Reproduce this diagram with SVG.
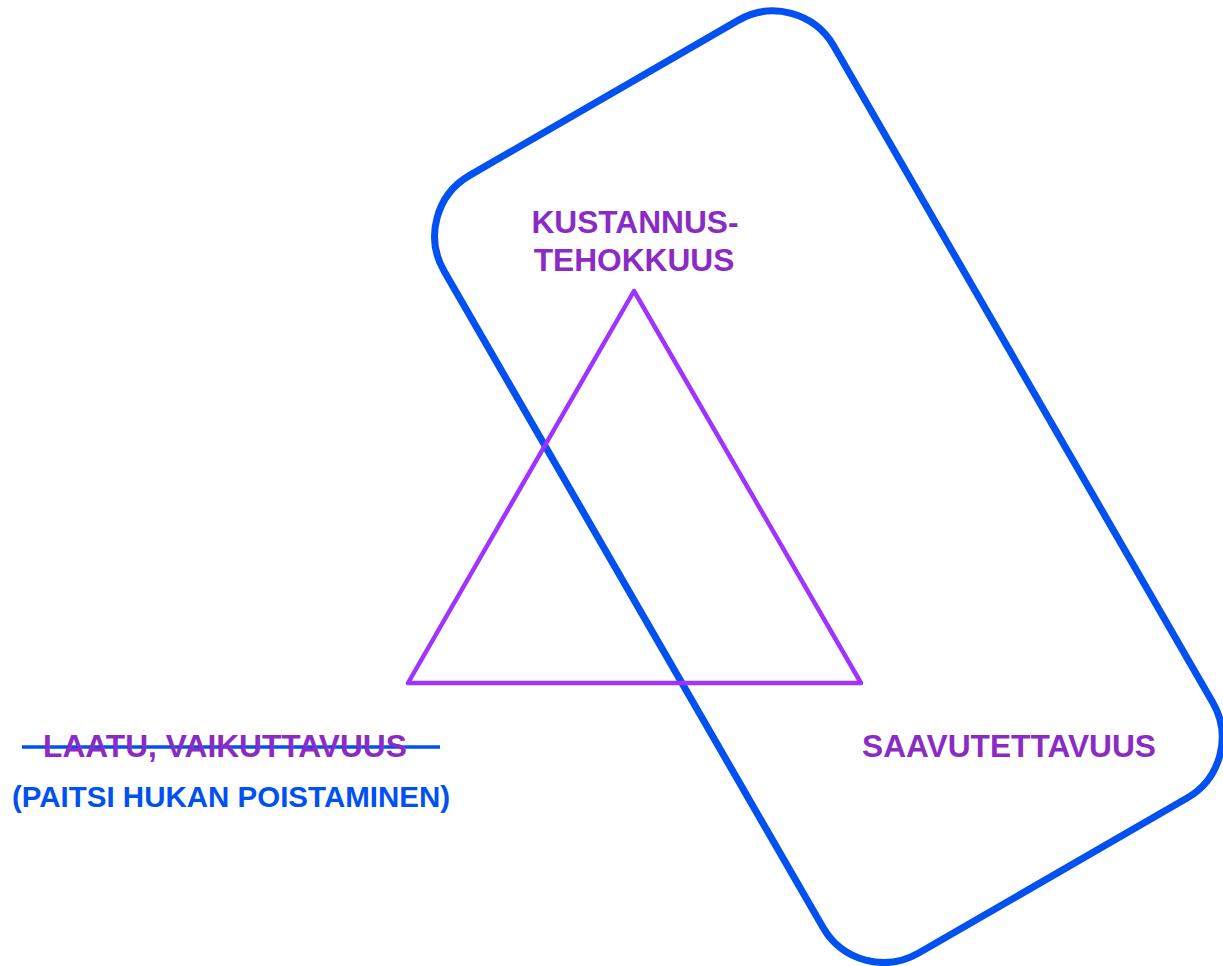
<svg xmlns="http://www.w3.org/2000/svg" width="1223" height="966" viewBox="0 0 1223 966">
<style>
.lbl{font-family:"Liberation Sans",Arial,sans-serif;font-weight:bold;font-size:31.7px;fill:#8B2BC5;text-anchor:middle}
.blue{fill:#0050F2}
</style>
<rect width="1223" height="966" fill="#ffffff"/>
<g id="connectors">
<line x1="22" y1="747" x2="440" y2="747" stroke="#0050F2" stroke-width="3.5"/>
</g>
<g id="rotated-frame">
<rect x="-225" y="-449" width="450" height="898" rx="70" ry="70" transform="translate(828.4,486.7) rotate(-30)" fill="none" stroke="#0050F2" stroke-width="7"/>
</g>
<g id="triangle">
<polygon points="634,291 408,683 861,683" fill="none" stroke="#A033FF" stroke-width="4.5" stroke-linejoin="round"/>
</g>
<g id="kustannustehokkuus">
<text class="lbl" x="635" y="233">KUSTANNUS-</text>
<text class="lbl" x="634" y="271">TEHOKKUUS</text>
</g>
<g id="laatu">
<text class="lbl" x="225" y="757">LAATU, VAIKUTTAVUUS</text>
<text class="lbl blue" x="231" y="807" style="font-size:29.5px">(PAITSI HUKAN POISTAMINEN)</text>
</g>
<g id="saavutettavuus">
<text class="lbl" x="1009" y="757">SAAVUTETTAVUUS</text>
</g>
</svg>
